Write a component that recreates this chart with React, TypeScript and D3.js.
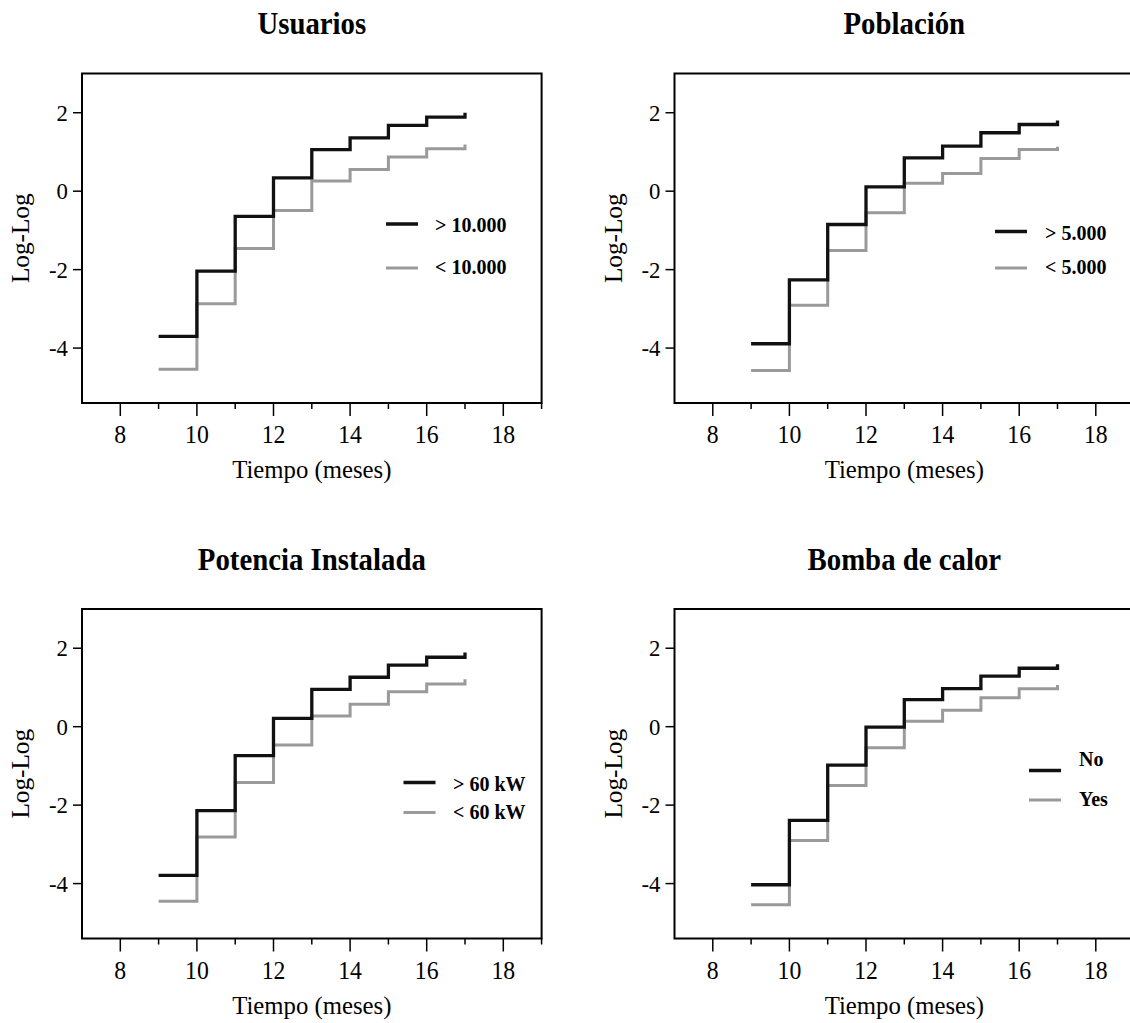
import React from "react";
import * as d3 from "d3";

// ---- data ----
const times = [9, 10, 11, 12, 13, 14, 15, 16, 17];
const titles = ["Usuarios", "Población", "Potencia Instalada", "Bomba de calor"];
const highLabels = ["> 10.000", "> 5.000", "> 60 kW", "No"];
const lowLabels = ["< 10.000", "< 5.000", "< 60 kW", "Yes"];
const usuariosHigh = [-3.7, -2.04, -0.64, 0.34, 1.06, 1.36, 1.68, 1.89, 2.0];
const usuariosLow = [-4.54, -2.87, -1.46, -0.49, 0.26, 0.55, 0.87, 1.08, 1.19];
const poblacionHigh = [-3.89, -2.26, -0.85, 0.11, 0.85, 1.15, 1.49, 1.7, 1.8];
const poblacionLow = [-4.57, -2.91, -1.51, -0.55, 0.2, 0.45, 0.83, 1.06, 1.13];
const potenciaHigh = [-3.79, -2.14, -0.74, 0.21, 0.95, 1.26, 1.57, 1.77, 1.89];
const potenciaLow = [-4.45, -2.81, -1.42, -0.47, 0.27, 0.57, 0.89, 1.09, 1.21];
const bombaHigh = [-4.03, -2.39, -0.98, -0.01, 0.69, 0.97, 1.29, 1.49, 1.59];
const bombaLow = [-4.54, -2.9, -1.5, -0.54, 0.14, 0.42, 0.74, 0.97, 1.06];
const xTickValues = [8, 9, 10, 11, 12, 13, 14, 15, 16, 17, 18, 19];
const xTickLabels = [8, 10, 12, 14, 16, 18];
const yTickValues = [2, 0, -2, -4];
const xTitle = "Tiempo (meses)";
const yTitle = "Log-Log";

const seriesHigh = [usuariosHigh, poblacionHigh, potenciaHigh, bombaHigh];
const seriesLow = [usuariosLow, poblacionLow, potenciaLow, bombaLow];

// ---- layout ----
const FONT = "'Liberation Serif', 'Times New Roman', serif";
const panelOrigins = [
  { x: 82, y: 73.5 },
  { x: 674.5, y: 73.5 },
  { x: 82, y: 609 },
  { x: 674.5, y: 609 },
];
const legendPos = [
  { lx: 386, ly1: 224, ly2: 268, tx: 435, ty1: 232, ty2: 274 },
  { lx: 995, ly1: 231.5, ly2: 268, tx: 1045, ty1: 239.5, ty2: 274 },
  { lx: 403.5, ly1: 782.5, ly2: 812.5, tx: 453, ty1: 790.5, ty2: 819 },
  { lx: 1029, ly1: 770.5, ly2: 800, tx: 1079, ty1: 766, ty2: 806 },
];
const PW = 459.6;
const PH = 329.5;
const BLACK = "#111";
const GREY = "#9a9a9a";

function T({
  x,
  y,
  sx = 1,
  size,
  anchor = "start",
  bold = false,
  children,
}: {
  x: number;
  y: number;
  sx?: number;
  size: number;
  anchor?: string;
  bold?: boolean;
  children: React.ReactNode;
}) {
  return (
    <text
      transform={`translate(${x},${y}) scale(${sx},1)`}
      textAnchor={anchor}
      fontFamily={FONT}
      fontWeight={bold ? "bold" : "normal"}
      fontSize={size}
      fill="#000"
    >
      {children}
    </text>
  );
}

function Panel({ idx }: { idx: number }) {
  const o = panelOrigins[idx];
  const x = d3.scaleLinear().domain([7, 19]).range([o.x, o.x + PW]);
  const y = d3.scaleLinear().domain([-5.4, 3.0]).range([o.y + PH, o.y]);
  const line = d3
    .line<number>()
    .x((_, i) => x(times[i]))
    .y((d) => y(d))
    .curve(d3.curveStepAfter);
  const lg = legendPos[idx];
  const bottom = o.y + PH;
  const cx = o.x + PW / 2;
  return (
    <g>
      <T x={cx} y={o.y - 39.5} size={32} sx={0.9} anchor="middle" bold>
        {titles[idx]}
      </T>
      <path d={line(seriesLow[idx]) || ""} fill="none" stroke={GREY} strokeWidth={3} />
      <path d={line(seriesHigh[idx]) || ""} fill="none" stroke={BLACK} strokeWidth={3.3} />
      <rect x={o.x} y={o.y} width={PW} height={PH} fill="none" stroke="#000" strokeWidth={2} />
      {xTickValues.map((t) => (
        <line
          key={"xt" + t}
          x1={x(t)}
          x2={x(t)}
          y1={bottom}
          y2={bottom + (t % 2 === 0 ? 13 : 6)}
          stroke="#000"
          strokeWidth={1.5}
        />
      ))}
      {xTickLabels.map((t) => (
        <T key={"xl" + t} x={x(t)} y={bottom + 40} size={25} sx={0.95} anchor="middle">
          {t}
        </T>
      ))}
      {yTickValues.map((t) => (
        <line key={"yt" + t} x1={o.x - 9} x2={o.x} y1={y(t)} y2={y(t)} stroke="#000" strokeWidth={1.5} />
      ))}
      {yTickValues.map((t) => (
        <T key={"yl" + t} x={o.x - 14} y={y(t) + 8} size={24} sx={0.95} anchor="end">
          {t}
        </T>
      ))}
      <T x={cx} y={bottom + 75} size={25} sx={0.99} anchor="middle">
        {xTitle}
      </T>
      <text
        transform={`translate(${o.x - 53},${o.y + PH / 2}) rotate(-90) scale(0.97,1)`}
        textAnchor="middle"
        fontFamily={FONT}
        fontSize={26}
        fill="#000"
      >
        {yTitle}
      </text>
      <line x1={lg.lx} x2={lg.lx + 32} y1={lg.ly1} y2={lg.ly1} stroke={BLACK} strokeWidth={3.5} />
      <line x1={lg.lx} x2={lg.lx + 32} y1={lg.ly2} y2={lg.ly2} stroke={GREY} strokeWidth={3} />
      <T x={lg.tx} y={lg.ty1} size={20} bold>
        {highLabels[idx]}
      </T>
      <T x={lg.tx} y={lg.ty2} size={20} bold>
        {lowLabels[idx]}
      </T>
    </g>
  );
}

export default function App() {
  return (
    <svg
      width={1130}
      height={1023}
      style={{ position: "absolute", left: 0, top: 0, background: "#fff", overflow: "hidden" }}
    >
      <rect x={0} y={0} width={1130} height={1023} fill="#fff" />
      {[0, 1, 2, 3].map((i) => (
        <Panel key={i} idx={i} />
      ))}
    </svg>
  );
}
